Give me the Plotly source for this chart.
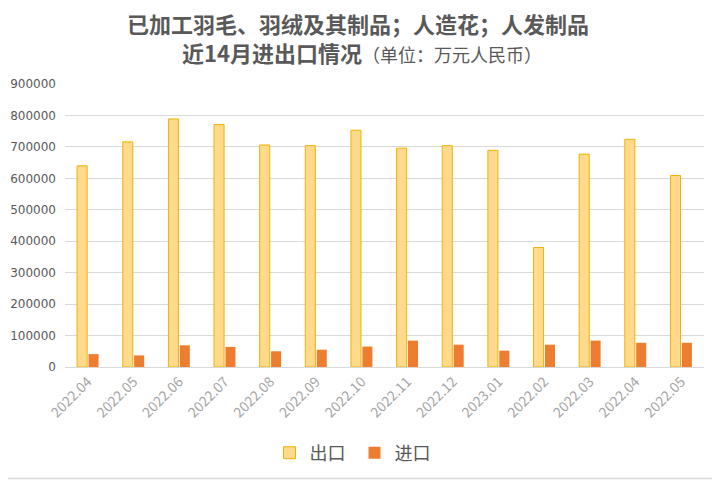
import plotly.graph_objects as go

months = ["2022.04", "2022.05", "2022.06", "2022.07", "2022.08", "2022.09", "2022.10",
          "2022.11", "2022.12", "2023.01", "2022.02", "2022.03", "2022.04", "2022.05"]
export_vals = [640000, 716000, 789000, 771000, 706000, 704000, 753000,
               696000, 704000, 689000, 380000, 677000, 724000, 609000]
import_vals = [41000, 37000, 69000, 64000, 50000, 55000, 65000,
               84000, 71000, 52000, 71000, 84000, 77000, 77000]
y_ticks = [0, 100000, 200000, 300000, 400000, 500000, 600000, 700000, 800000, 900000]
title_line1 = "已加工羽毛、羽绒及其制品；人造花；人发制品"
title_line2_main = "近14月进出口情况"
title_line2_unit = "（单位：万元人民币）"

x_pos = list(range(len(months)))
font_cjk = "Noto Sans CJK SC"

fig = go.Figure()
fig.add_trace(go.Bar(
    x=x_pos, y=export_vals, name="出口",
    marker=dict(color="#FFD98C", line=dict(color="#F0B300", width=1)),
))
fig.add_trace(go.Bar(
    x=x_pos, y=import_vals, name="进口",
    marker=dict(color="#ED7D31", line=dict(color="#ED7D31", width=0)),
))

# page body has an 8px margin, so the figure is drawn 8px smaller and offset
W, H = 712, 472
ml, mr, mt, mb = 57, 16, 76, 113
pw, ph = W - ml - mr, H - mt - mb

fig.update_layout(
    width=W, height=H,
    margin=dict(l=ml, r=mr, t=mt, b=mb, autoexpand=False),
    paper_bgcolor="white", plot_bgcolor="white",
    barmode="group", bargap=0.5, bargroupgap=0.12,
    font=dict(family=font_cjk, color="#595959"),
    xaxis=dict(
        tickmode="array", tickvals=x_pos, ticktext=months,
        tickangle=-45, tickfont=dict(size=14, color="#A6A6A6", family=font_cjk),
        range=[-0.5, len(months) - 0.5],
        showgrid=False, showline=True, linecolor="#D9D9D9", ticks="",
        automargin=False,
    ),
    yaxis=dict(
        range=[0, 900000], tickmode="array", tickvals=y_ticks,
        ticktext=[str(v) for v in y_ticks],
        tickfont=dict(size=12, color="#595959", family="DejaVu Sans"),
        showgrid=True, gridcolor="#D9D9D9", gridwidth=1,
        zeroline=False, showline=False, ticks="", ticklabelstandoff=8,
        automargin=False,
    ),
    legend=dict(
        orientation="h", x=0.5 - 30 / pw, xanchor="center", y=-0.304, yanchor="middle",
        font=dict(size=18, color="#595959", family=font_cjk),
        itemwidth=30, traceorder="normal",
        entrywidth=40, entrywidthmode="pixels",
    ),
    showlegend=True,
)

fig.add_annotation(
    text="<b>" + title_line1 + "</b>",
    xref="paper", yref="paper", x=0.5 - 27 / pw, y=1 + 61.5 / ph,
    xanchor="center", yanchor="middle", showarrow=False,
    font=dict(size=22, color="#595959", family=font_cjk),
)
fig.add_annotation(
    text="<b>" + title_line2_main + "</b>"
         + "<span style='font-size:18px'>" + title_line2_unit + "</span>",
    xref="paper", yref="paper", x=0.5 - 23 / pw, y=1 + 32 / ph,
    xanchor="center", yanchor="middle", showarrow=False,
    font=dict(size=22, color="#595959", family=font_cjk),
)

# light frame (right and bottom edges visible within the window)
fig.add_shape(
    type="line", xref="paper", yref="paper",
    x0=1 + (mr - 1.5) / pw, x1=1 + (mr - 1.5) / pw,
    y0=-(mb - 1.5) / ph, y1=1 + mt / ph,
    line=dict(color="#D9D9D9", width=1.5), layer="below",
)
fig.add_shape(
    type="line", xref="paper", yref="paper",
    x0=-ml / pw, x1=1 + (mr - 1.5) / pw,
    y0=-(mb - 1.5) / ph, y1=-(mb - 1.5) / ph,
    line=dict(color="#D9D9D9", width=1.5), layer="below",
)

fig.write_html("out.html")
